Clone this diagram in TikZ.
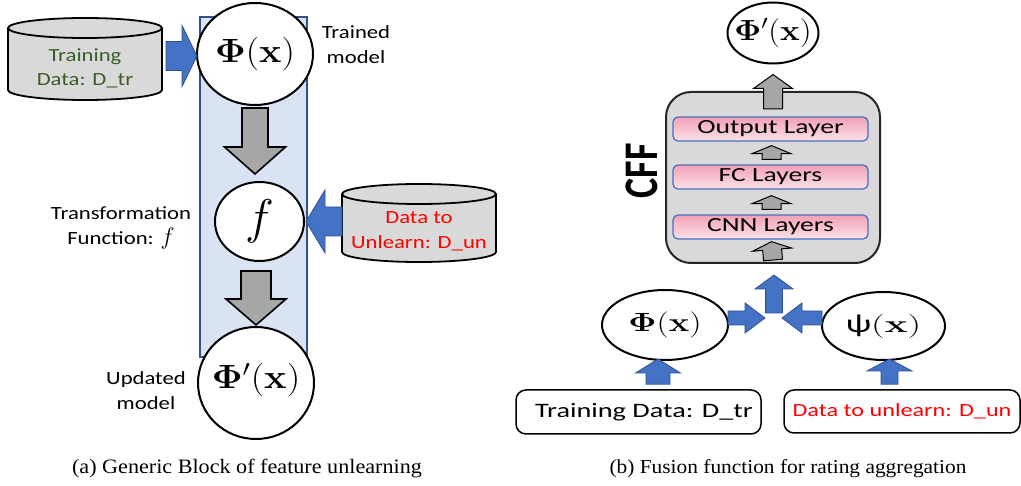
\documentclass[tikz,border=0pt]{standalone}
\usepackage[no-math]{fontspec}
\usepackage{graphicx}
\setmainfont{Carlito}
\newfontfamily\fl[FakeStretch=1.22]{Carlito}
\newfontfamily\fr[FakeStretch=1.38]{Carlito}
\newfontfamily\fu[FakeStretch=1.3]{Carlito}
\newfontfamily\fcff{Carlito}
\newfontfamily\fcap[FakeStretch=1.08]{Liberation Serif}
\usetikzlibrary{calc,shapes.geometric}
\definecolor{bluearrow}{HTML}{4472C4}
\definecolor{blueedge}{HTML}{2F528F}
\definecolor{colfill}{HTML}{DAE3F3}
\definecolor{cylgray}{HTML}{D9D9D9}
\definecolor{arrgray}{HTML}{A6A6A6}
\definecolor{txtgreen}{HTML}{3B5E29}
\definecolor{pinktop}{HTML}{F2A0B4}
\definecolor{pinkbot}{HTML}{FBE2E8}
\newcommand\bkarrow[6]{%
  \draw[#6] ($(#1)!#3!90:(#2)$) -- ($($(#2)!#5!(#1)$)!#3!-90:(#1)$) -- ($($(#2)!#5!(#1)$)!#4!-90:(#1)$) -- (#2) -- ($($(#2)!#5!(#1)$)!#4!90:(#1)$) -- ($($(#2)!#5!(#1)$)!#3!90:(#1)$) -- ($(#1)!#3!-90:(#2)$) -- cycle;}
\newcommand\drawcyl[3]{%
  \filldraw[cyl] ([yshift=-#3]#1.north west) -- ([yshift=#3]#1.south west)
    arc[start angle=180,end angle=360,x radius=#2,y radius=#3]
    -- ([yshift=-#3]#1.north east)
    arc[start angle=0,end angle=180,x radius=#2,y radius=#3] -- cycle;
  \draw[cyl,fill=none] ([yshift=-#3]#1.north west)
    arc[start angle=180,end angle=360,x radius=#2,y radius=#3];}
\newcommand\mth[3]{\scalebox{#1}[#2]{\fontsize{20}{24}\selectfont$#3$}}
\newcommand\ctr[1]{\smash{\makebox[0pt]{\raisebox{\dimexpr(\depth-\height)/2\relax}{#1}}}}
\begin{document}
\begin{tikzpicture}[x=1pt,y=-1pt,
  ell/.style={ellipse,draw=black,line width=2pt,fill=white,inner sep=0pt,outer sep=0pt},
  cylholder/.style={rectangle,draw=none,inner sep=0pt,outer sep=0pt},
  cyl/.style={draw=black,line width=1.8pt,fill=cylgray},
  bluear/.style={fill=bluearrow,draw=blueedge,line width=0.8pt},
  grayar/.style={fill=arrgray,draw=black,line width=1.6pt},
  smallgray/.style={fill=arrgray,draw=black,line width=1pt},
  layer/.style={rectangle,rounded corners=5pt,draw=bluearrow,line width=1.3pt,top color=pinktop,bottom color=pinkbot,minimum width=195pt,minimum height=24pt,inner sep=0pt,font=\fr\fontsize{20}{24}\selectfont},
  rbox/.style={rectangle,rounded corners=10pt,draw=black,line width=1.5pt,fill=white,inner sep=0pt},
  ltext/.style={align=center,font=\fl\fontsize{18.6}{25}\selectfont},
  captxt/.style={anchor=base,font=\fcap\fontsize{20.5}{24}\selectfont}]
\useasboundingbox (0,0) rectangle (1021,486);

% ---------- left panel ----------
\node[rectangle,fill=colfill,draw=blueedge,line width=1.5pt,minimum width=107pt,minimum height=340pt,inner sep=0pt] (col) at (253.5,187) {};

\node[cylholder,minimum width=154pt,minimum height=82pt] (trcyl) at (85,59) {};
\drawcyl{trcyl}{77pt}{10pt}
\node[ltext,text=txtgreen,font=\fl\fontsize{18.6}{24}\selectfont] (trtext) at (85,68) {Training\\Data: D\_tr};

\node[cylholder,minimum width=154pt,minimum height=78pt] (uncyl) at (419,223) {};
\drawcyl{uncyl}{77pt}{10pt}
\node[ltext,text=red] (untext) at (419,231) {Data to\\Unlearn: D\_un};

\node[ell,minimum width=116pt,minimum height=102pt] (phi) at (255,54)
  {\ctr{\mth{1.82}{1.62}{\mathbf{\Phi(x)}}}};
\node[ell,minimum width=89pt,minimum height=79pt] (f) at (259.5,221.5)
  {\ctr{\mth{2.35}{2.35}{f}}};
\node[ell,minimum width=116pt,minimum height=112pt] (phi2) at (256,383)
  {\raisebox{5pt}{\ctr{\mth{1.83}{1.62}{\mathbf{\Phi'(x)}}}}};

\node[ltext] (trained) at (356,45) {Trained\\model};
\node[ltext] (transf) at (121,228) {Transformation\\Function: \mth{1.15}{1.15}{f}};
\node[ltext] (updated) at (146,391) {Updated\\model};

\coordinate (a1s) at ($(trcyl.east |- phi.west)+(4pt,-2pt)$);
\coordinate (a1e) at ($(phi.west)+(0,-2pt)$);
\bkarrow{a1s}{a1e}{14.5pt}{30.5pt}{15pt}{bluear}
\coordinate (a2s) at (uncyl.west |- f.east);
\coordinate (a2e) at ($(f.east)+(2pt,0)$);
\bkarrow{a2s}{a2e}{14.5pt}{31.5pt}{19pt}{bluear}
\coordinate (g1s) at ($(phi.south)+(0,-3pt)$);
\coordinate (g1e) at ($(phi.south |- f.north)+(0,8pt)$);
\bkarrow{g1s}{g1e}{13pt}{30.5pt}{27pt}{grayar}
\coordinate (g2s) at ($(phi2.north |- f.south)+(0,-10pt)$);
\coordinate (g2e) at ($(phi2.north)+(0,2pt)$);
\bkarrow{g2s}{g2e}{15pt}{30pt}{26pt}{grayar}

\node[captxt] (capa) at (247,474) {(a) Generic Block of feature unlearning};

% ---------- right panel ----------
\node[rectangle,rounded corners=25pt,draw=black!85,line width=2pt,fill=cylgray,minimum width=214pt,minimum height=171pt] (cff) at (773,177.5) {};
\node[layer] (out) at (770.5,129) {Output Layer};
\node[layer] (fc) at (770.5,177) {FC Layers};
\node[layer] (cnn) at (770.5,227) {CNN Layers};
\node[rotate=90,inner sep=0pt] (cfflab) at (641.5,171)
  {\fontsize{38}{40}\fcff\bfseries\scalebox{1}[1.27]{CFF}};

\node[ell,minimum width=91pt,minimum height=61pt] (phiT) at (773,33)
  {\ctr{\mth{1.6}{1.4}{\mathbf{\Phi'(x)}}}};
\node[ell,minimum width=126pt,minimum height=70pt] (phiB) at (665,325)
  {\ctr{\mth{1.67}{1.27}{\mathbf{\Phi(x)}}}};
\node[ell,minimum width=123pt,minimum height=68pt] (psi) at (883.5,326)
  {\ctr{{\fr\fontsize{26}{28}\selectfont ψ}\mth{1.85}{1.16}{(\mathbf{x})}}};

\node[rbox,minimum width=245pt,minimum height=44pt,font=\fr\fontsize{20.5}{24}\selectfont] (trb) at (638.5,412)
  {\hspace*{11pt}Training Data: D\_tr};
\node[rbox,minimum width=236pt,minimum height=43pt,text=red,font=\fu\fontsize{18.6}{22}\selectfont] (unb) at (902,411.5)
  {Data to unlearn: D\_un};

\coordinate (t1s) at ($(cff.north)+(0,-18pt)$);
\coordinate (t1e) at ($(phiT.south)+(0,-11pt)$);
\bkarrow{t1s}{t1e}{9.5pt}{19.5pt}{14pt}{smallgray}
\coordinate (s1s) at ($(fc.north)+(1pt,5pt)$);
\coordinate (s1e) at ($(out.south)+(1pt,-4pt)$);
\bkarrow{s1s}{s1e}{9.5pt}{19.5pt}{8pt}{smallgray}
\coordinate (s2s) at ($(cnn.north)+(1pt,5pt)$);
\coordinate (s2e) at ($(fc.south)+(1pt,-6pt)$);
\bkarrow{s2s}{s2e}{9.5pt}{19.5pt}{8pt}{smallgray}
\coordinate (s3s) at ($(cff.south)+(0,4pt)$);
\coordinate (s3e) at ($(cnn.south)+(1pt,-2pt)$);
\bkarrow{s3s}{s3e}{9.5pt}{19.5pt}{8pt}{smallgray}

\coordinate (fuse) at (774,318);
\coordinate (b1s) at (phiB.east |- fuse);
\coordinate (b1e) at ($(fuse)+(-9pt,0)$);
\bkarrow{b1s}{b1e}{7pt}{15pt}{20pt}{bluear}
\coordinate (b2s) at (psi.west |- fuse);
\coordinate (b2e) at ($(fuse)+(8pt,0)$);
\bkarrow{b2s}{b2e}{7pt}{15pt}{20pt}{bluear}
\coordinate (b3s) at ($(fuse)+(0,5pt)$);
\coordinate (b3e) at ($(fuse |- cff.south)+(0,-11pt)$);
\bkarrow{b3s}{b3e}{8.5pt}{19pt}{14pt}{bluear}
\coordinate (b4s) at ($(phiB.south |- trb.north)+(-7pt,5pt)$);
\coordinate (b4e) at ($(phiB.south)+(-7pt,1pt)$);
\bkarrow{b4s}{b4e}{12pt}{22.5pt}{14pt}{bluear}
\coordinate (b5s) at ($(psi.south |- unb.north)+(6pt,5pt)$);
\coordinate (b5e) at ($(psi.south)+(6pt,1pt)$);
\bkarrow{b5s}{b5e}{8.5pt}{22.5pt}{12pt}{bluear}

\node[captxt,font=\fcap\fontsize{19.8}{24}\selectfont] (capb) at (788,473) {(b) Fusion function for rating aggregation};
\end{tikzpicture}
\end{document}
